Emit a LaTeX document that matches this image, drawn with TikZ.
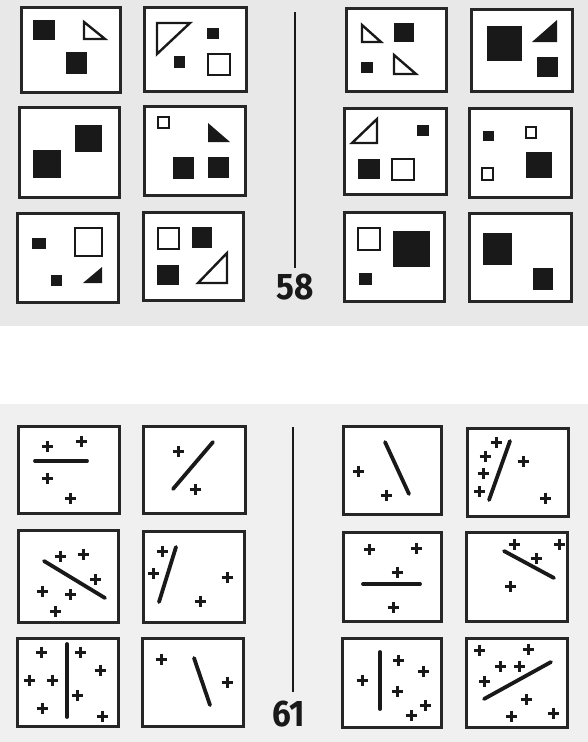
\documentclass[tikz,border=0pt]{standalone}
\usepackage{fontspec}
\newfontfamily\numfont{Fira Sans}[FakeStretch=0.9]
\begin{document}
\begin{tikzpicture}[x=1pt,y=-1pt,
  frame/.style={draw=black!85,line width=3pt,fill=white},
  solid/.style={fill=black!90},
  hollow/.style={draw=black!90,line width=2.4pt,line join=miter},
  bar/.style={draw=black!90,line width=3.8pt,line cap=round},
  divider/.style={draw=black!90,line width=2.8pt},
  crossmark/.pic={\draw[black!90,line width=3pt] (-5.5,0)--(5.5,0) (0,-5.5)--(0,5.5);},
  numlabel/.style={font=\numfont\bfseries\fontsize{37}{37}\selectfont,text=black!90,inner sep=0pt}]
\useasboundingbox (0,0) rectangle (588,742);
\fill[black!9] (0,0) rectangle (588,326);
\fill[black!6] (0,404) rectangle (588,742);
% ---------- Problem 58 ----------
\draw[frame] (21,7) rectangle (120,92);
\fill[solid] (33,20) rectangle (55,40);
\draw[hollow] (84,22)--(84,39)--(105,39)--cycle;
\fill[solid] (66,52) rectangle (87,74);

\draw[frame] (144,7) rectangle (246,91);
\draw[hollow] (157,23)--(190,23)--(157,54)--cycle;
\fill[solid] (207,28) rectangle (219,39);
\fill[solid] (174,56) rectangle (185,68);
\draw[hollow] (208,54) rectangle (230,75);

\draw[frame] (19,107) rectangle (119,197);
\fill[solid] (75,125) rectangle (102,152);
\fill[solid] (33,150) rectangle (61,178);

\draw[frame] (144,106) rectangle (245,195);
\draw[hollow] (158,117) rectangle (169,128);
\fill[solid] (208,123)--(208,142)--(230,142)--cycle;
\fill[solid] (173,157) rectangle (194,179);
\fill[solid] (208,157) rectangle (229,178);

\draw[frame] (17,213) rectangle (118,302);
\fill[solid] (32,238) rectangle (46,249);
\draw[hollow] (75,228) rectangle (102,256);
\fill[solid] (51,275) rectangle (62,286);
\fill[solid] (83,283)--(102,283)--(102,267)--cycle;

\draw[frame] (143,212) rectangle (243,300);
\draw[hollow] (158,228) rectangle (179,249);
\fill[solid] (192,227) rectangle (212,248);
\fill[solid] (157,265) rectangle (179,285);
\draw[hollow] (198,283)--(227,283)--(227,253)--cycle;

\draw[frame] (346,8) rectangle (446,91);
\draw[hollow] (362,25)--(362,42)--(381,42)--cycle;
\fill[solid] (394,23) rectangle (414,42);
\fill[solid] (361,62) rectangle (373,73);
\draw[hollow] (394,55)--(394,74)--(416,74)--cycle;

\draw[frame] (471,9) rectangle (572,91);
\fill[solid] (487,26) rectangle (522,61);
\fill[solid] (532,42)--(557,42)--(557,20)--cycle;
\fill[solid] (537,57) rectangle (558,77);

\draw[frame] (344,108) rectangle (446,194);
\draw[hollow] (352,143)--(377,143)--(377,119)--cycle;
\fill[solid] (417,125) rectangle (429,136);
\fill[solid] (358,159) rectangle (380,179);
\draw[hollow] (392,159) rectangle (414,180);

\draw[frame] (469,108) rectangle (571,197);
\fill[solid] (483,131) rectangle (494,141);
\draw[hollow] (526,127) rectangle (536,138);
\draw[hollow] (482,168) rectangle (493,180);
\fill[solid] (526,152) rectangle (552,178);

\draw[frame] (344,212) rectangle (444,301);
\draw[hollow] (358,228) rectangle (380,250);
\fill[solid] (393,231) rectangle (430,267);
\fill[solid] (359,273) rectangle (372,285);

\draw[frame] (469,213) rectangle (571,301);
\fill[solid] (483,233) rectangle (512,265);
\fill[solid] (533,268) rectangle (553,290);

\coordinate (d58a) at (295,12);
\coordinate (d58b) at (295,268);
\draw[divider] (d58a)--(d58b);
\node[numlabel] (n58) at (295,287) {58};
% ---------- Problem 61 ----------
\draw[frame] (18,426) rectangle (119,513);
\pic at (47,446) {crossmark}; \pic at (81,441) {crossmark};
\draw[bar] (35,461)--(87,461);
\pic at (47,478) {crossmark}; \pic at (70,498) {crossmark};

\draw[frame] (143,426) rectangle (245,513);
\pic at (178,451) {crossmark};
\draw[bar] (213,442)--(173,489);
\pic at (195,489) {crossmark};

\draw[frame] (18,530) rectangle (118,622);
\pic at (60,556) {crossmark}; \pic at (83,554) {crossmark};
\draw[bar] (44,561)--(105,598);
\pic at (95,579) {crossmark}; \pic at (42,591) {crossmark};
\pic at (70,594) {crossmark}; \pic at (55,611) {crossmark};

\draw[frame] (143,531) rectangle (244,622);
\pic at (162,551) {crossmark};
\draw[bar] (176,547)--(159,602);
\pic at (153,573) {crossmark}; \pic at (227,577) {crossmark}; \pic at (200,601) {crossmark};

\draw[frame] (17,638) rectangle (118,726);
\draw[bar] (67,644)--(67,717);
\pic at (41,652) {crossmark}; \pic at (80,652) {crossmark}; \pic at (100,670) {crossmark};
\pic at (29,680) {crossmark}; \pic at (52,680) {crossmark}; \pic at (77,695) {crossmark};
\pic at (42,708) {crossmark}; \pic at (102,716) {crossmark};

\draw[frame] (142,638) rectangle (243,726);
\pic at (161,659) {crossmark};
\draw[bar] (194,658)--(210,705);
\pic at (227,682) {crossmark};

\draw[frame] (343,426) rectangle (441,514);
\draw[bar] (385,442)--(409,494);
\pic at (358,471) {crossmark}; \pic at (386,495) {crossmark};

\draw[frame] (467,428) rectangle (568,516);
\draw[bar] (510,441)--(489,500);
\pic at (496,442) {crossmark}; \pic at (485,456) {crossmark};
\pic at (483,473) {crossmark}; \pic at (479,491) {crossmark};
\pic at (523,461) {crossmark}; \pic at (545,498) {crossmark};

\draw[frame] (343,532) rectangle (441,621);
\pic at (369,549) {crossmark}; \pic at (416,548) {crossmark}; \pic at (397,572) {crossmark};
\draw[bar] (363,584)--(420,584);
\pic at (393,607) {crossmark};

\draw[frame] (466,532) rectangle (567,621);
\pic at (514,544) {crossmark}; \pic at (559,544) {crossmark}; \pic at (536,558) {crossmark};
\draw[bar] (504,551)--(554,578);
\pic at (510,586) {crossmark};

\draw[frame] (342,638) rectangle (441,727);
\draw[bar] (380,652)--(380,709);
\pic at (362,680) {crossmark}; \pic at (398,660) {crossmark}; \pic at (423,671) {crossmark};
\pic at (397,691) {crossmark}; \pic at (425,705) {crossmark}; \pic at (411,715) {crossmark};

\draw[frame] (466,638) rectangle (567,727);
\pic at (479,650) {crossmark}; \pic at (528,649) {crossmark};
\pic at (500,666) {crossmark}; \pic at (519,666) {crossmark}; \pic at (484,681) {crossmark};
\draw[bar] (484,699)--(551,662);
\pic at (526,699) {crossmark}; \pic at (511,716) {crossmark}; \pic at (553,713) {crossmark};

\coordinate (d61a) at (293,427);
\coordinate (d61b) at (293,692);
\draw[divider] (d61a)--(d61b);
\node[numlabel] (n61) at (289,714) {61};
\end{tikzpicture}
\end{document}
